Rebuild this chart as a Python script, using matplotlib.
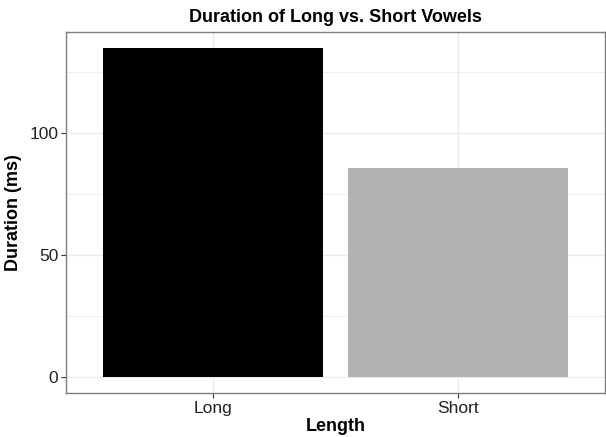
import matplotlib.pyplot as plt
from matplotlib.ticker import MultipleLocator

plt.rcParams['font.family'] = ['Liberation Sans', 'DejaVu Sans']

lengths = ["Long", "Short"]
durations = [134.6, 85.7]
bar_colors = ["#000000", "#B2B2B2"]

fig = plt.figure(figsize=(6.06, 4.37), dpi=100)
ax = fig.add_axes([66 / 606, 1 - 393 / 437, 539 / 606, 361 / 437])

x = list(range(1, len(lengths) + 1))
ax.bar(x, durations, width=0.9, color=bar_colors, zorder=2)

ax.set_xlim(0.4, 2.6)
ax.set_ylim(-0.05 * max(durations), 1.05 * max(durations))
ax.set_xticks(x)
ax.set_xticklabels(lengths)
ax.yaxis.set_major_locator(MultipleLocator(50))
ax.yaxis.set_minor_locator(MultipleLocator(25))

ax.grid(which='major', color='#EBEBEB', linewidth=1.0, zorder=0)
ax.grid(which='minor', axis='y', color='#EBEBEB', linewidth=0.6, zorder=0)
ax.set_axisbelow(True)

for s in ax.spines.values():
    s.set_color('#7F7F7F')
    s.set_linewidth(1.0)

ax.tick_params(which='major', length=3.5, width=0.8, color='#333333',
               labelsize=12.5, labelcolor='#222222', pad=2)
ax.tick_params(which='minor', length=0)

ax.set_xlabel("Length", fontsize=13, fontweight='bold', labelpad=2)
ax.set_ylabel("Duration (ms)", fontsize=13, fontweight='bold', labelpad=5)
ax.set_title("Duration of Long vs. Short Vowels", fontsize=13, fontweight='bold', pad=7)

fig.savefig("out.png", dpi=100)
